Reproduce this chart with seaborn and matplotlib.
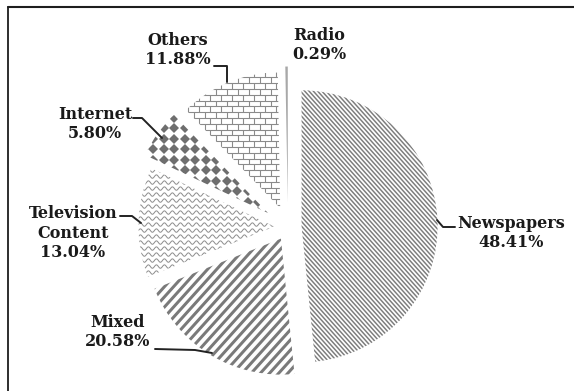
import numpy as np
import matplotlib
matplotlib.use("Agg")
import matplotlib.pyplot as plt
import matplotlib.transforms as mtransforms
from matplotlib.collections import LineCollection
from matplotlib.lines import Line2D
import seaborn as sns

# Share of news sources (percent), clockwise from 12 o'clock
categories = ["Newspapers", "Mixed", "Television\nContent", "Internet", "Others", "Radio"]
shares = [48.41, 20.58, 13.04, 5.80, 11.88, 0.29]
explode = [0.10, 0.10, 0.10, 0.18, 0.15, 0.18]

W, H = 574, 391          # canvas size in pixels
R_PX = 136               # pie radius in pixels
CX, CY = 288, 227        # pie centre (pixels, from top-left)

sns.set_theme(style="white")
plt.rcParams["font.family"] = ["DejaVu Serif"]

fig = plt.figure(figsize=(W / 100, H / 100), dpi=100)
ax = fig.add_axes([0, 0, 1, 1])
wedges, _ = ax.pie(shares, startangle=90, counterclock=False, explode=explode,
                   radius=1, colors=["white"] * len(shares),
                   wedgeprops=dict(linewidth=0))
ax.set_aspect("auto")
ax.set_xlim(-CX / R_PX, (W - CX) / R_PX)
ax.set_ylim(-(H - CY) / R_PX, CY / R_PX)
ax.axis("off")

PX = 1.0 / R_PX          # one pixel in data units
PT = 0.72                # one pixel in points


def stripes(w, angle, spacing, lw, color):
    th = np.deg2rad(angle)
    d = np.array([np.cos(th), np.sin(th)])
    n = np.array([-np.sin(th), np.cos(th)])
    c = np.array(w.center)
    r = w.r
    sp = spacing * PX
    ks = np.arange(np.floor(-1.5 * r / sp), np.ceil(1.5 * r / sp) + 1)
    segs = [[c + k * sp * n - 1.5 * r * d, c + k * sp * n + 1.5 * r * d] for k in ks]
    lc = LineCollection(segs, colors=[color], linewidths=lw * PT)
    ax.add_collection(lc)
    lc.set_clip_path(w)


def waves(w, row, period, amp, lw, color):
    cx, cy = w.center
    r = w.r
    xs = np.arange(cx - r, cx + r, 0.5 * PX)
    segs = []
    for y0 in np.arange(cy - r, cy + r, row * PX):
        ys = y0 + amp * PX * np.sin(2 * np.pi * (xs - cx) / (period * PX))
        segs.append(np.column_stack([xs, ys]))
    lc = LineCollection(segs, colors=[color], linewidths=lw * PT)
    ax.add_collection(lc)
    lc.set_clip_path(w)


def diamonds(w, step, size, color):
    cx, cy = w.center
    r = w.r
    g = np.arange(-r, r, step * PX)
    gx, gy = np.meshgrid(cx + g, cy + g)
    ln, = ax.plot(gx.ravel(), gy.ravel(), "D", ms=size * PT, color=color, mew=0)
    ln.set_clip_path(w)


def bricks(w, row, width, lw, color):
    cx, cy = w.center
    r = w.r
    segs = []
    ys = np.arange(cy - r, cy + r, row * PX)
    for i, y0 in enumerate(ys):
        segs.append([(cx - r, y0), (cx + r, y0)])
        off = (i % 2) * width * PX / 2
        for x0 in np.arange(cx - r + off, cx + r, width * PX):
            segs.append([(x0, y0), (x0, y0 + row * PX)])
    lc = LineCollection(segs, colors=[color], linewidths=lw * PT)
    ax.add_collection(lc)
    lc.set_clip_path(w)


stripes(wedges[0], -48, 3.2, 1.5, "#7d7d7d")     # Newspapers
stripes(wedges[1], 48, 6.8, 3.0, "#7a7a7a")      # Mixed
waves(wedges[2], 6.0, 8.0, 1.7, 1.0, "#8e8e8e")  # Television
diamonds(wedges[3], 10.5, 6.5, "#6e6e6e")        # Internet
bricks(wedges[4], 5.8, 11.0, 1.1, "#8a8a8a")     # Others
wedges[5].set_facecolor("#a8a8a8")               # Radio

# pixel coordinates measured from the top-left corner
img = mtransforms.Affine2D().scale(1 / W, -1 / H).translate(0, 1) + fig.transFigure

labels = [f"{c}\n{v:.2f}%" for c, v in zip(categories, shares)]
label_pos = [(511, 233), (118, 332), (73, 233), (95, 124), (178, 50), (319, 45)]
for txt, (x, y) in zip(labels, label_pos):
    fig.text(x, y, txt, transform=img, ha="center", va="center",
             multialignment="center", fontsize=11.5, fontweight="bold",
             color="#1a1a1a")

leaders = [
    [(437, 220), (443, 227), (455, 227)],
    [(155, 349), (195, 350), (212, 353)],
    [(120, 216), (132, 216), (141, 223)],
    [(133, 118), (142, 118), (162, 138)],
    [(214, 66), (227, 66), (227, 82)],
]
for pts in leaders:
    xs, ys = zip(*pts)
    fig.add_artist(Line2D(xs, ys, transform=img, color="#222222", lw=1.4))

# partial frame (top and left edges)
fig.add_artist(Line2D([7.5, W + 5], [6.5, 6.5], transform=img, color="#1e1e1e", lw=1.5))
fig.add_artist(Line2D([7.8, 7.8], [6.5, H + 5], transform=img, color="#1e1e1e", lw=1.3))

fig.savefig("out.png", dpi=100, facecolor="white")
